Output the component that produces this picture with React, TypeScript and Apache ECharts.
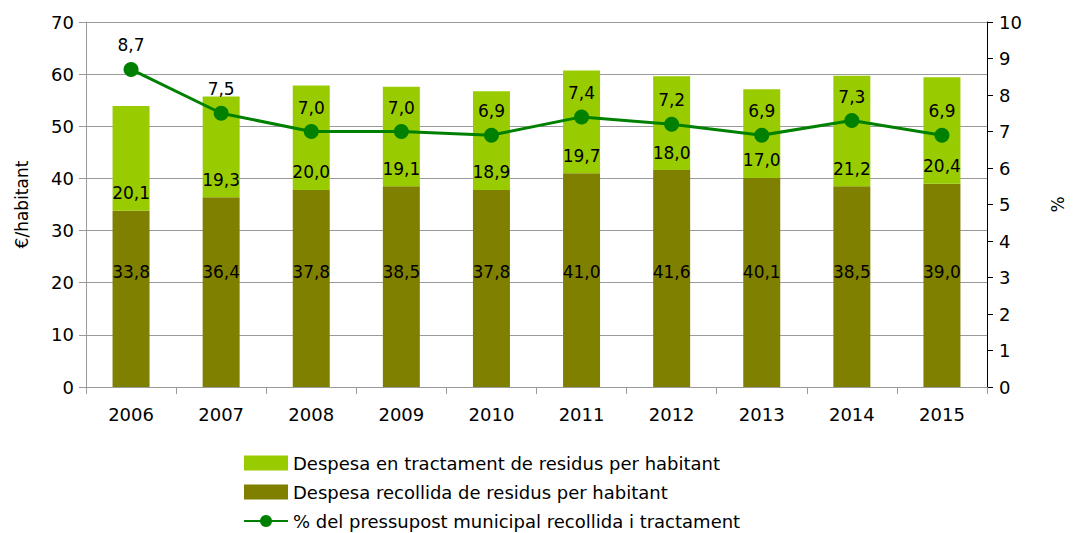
import React, { useEffect, useRef } from "react";
import * as echarts from "echarts";

const years = ["2006", "2007", "2008", "2009", "2010", "2011", "2012", "2013", "2014", "2015"];
const recollida = [33.8, 36.4, 37.8, 38.5, 37.8, 41.0, 41.6, 40.1, 38.5, 39.0];
const tractament = [20.1, 19.3, 20.0, 19.1, 18.9, 19.7, 18.0, 17.0, 21.2, 20.4];
const pressupost = [8.7, 7.5, 7.0, 7.0, 6.9, 7.4, 7.2, 6.9, 7.3, 6.9];

const FONT = "'DejaVu Sans', sans-serif";
const fmt = (v: number) => v.toFixed(1).replace(".", ",");

export default function App() {
  const ref = useRef<HTMLDivElement>(null);
  useEffect(() => {
    if (!ref.current) return;
    const chart = echarts.init(ref.current, null, { renderer: "svg" });
    chart.setOption({
      animation: false,
      textStyle: { fontFamily: FONT },
      grid: { left: 86, right: 80, top: 22, bottom: 146 },
      legend: {
        orient: "vertical",
        left: 238,
        top: 449,
        height: 100,
        itemGap: 11,
        itemWidth: 44,
        itemHeight: 15,
        textStyle: { fontFamily: FONT, fontSize: 18, color: "#000" },
        data: [
          { name: "Despesa en tractament de residus per habitant", icon: "rect" },
          { name: "Despesa recollida de residus per habitant", icon: "rect" },
          { name: "% del pressupost municipal recollida i tractament" },
        ],
      },
      xAxis: {
        type: "category",
        data: years,
        boundaryGap: true,
        axisLine: { lineStyle: { color: "#9a9a9a", width: 1 } },
        axisTick: { show: true, length: 7, alignWithLabel: false, lineStyle: { color: "#9a9a9a" } },
        axisLabel: { fontFamily: FONT, fontSize: 18, color: "#000", margin: 18 },
      },
      yAxis: [
        {
          type: "value",
          min: 0,
          max: 70,
          interval: 10,
          name: "€/habitant",
          nameLocation: "middle",
          nameRotate: 90,
          nameGap: 56,
          nameTextStyle: { fontFamily: FONT, fontSize: 17, color: "#000" },
          axisLine: { show: true, lineStyle: { color: "#9a9a9a" } },
          axisTick: { show: true, length: 7, lineStyle: { color: "#9a9a9a" } },
          axisLabel: { fontFamily: FONT, fontSize: 18, color: "#000", margin: 12 },
          splitLine: { show: true, lineStyle: { color: "#9a9a9a", width: 1 } },
        },
        {
          type: "value",
          min: 0,
          max: 10,
          interval: 1,
          position: "right",
          name: "%",
          nameLocation: "middle",
          nameRotate: 90,
          nameGap: 62,
          nameTextStyle: { fontFamily: FONT, fontSize: 17, color: "#000" },
          axisLine: { show: true, lineStyle: { color: "#000" } },
          axisTick: { show: true, length: 6, lineStyle: { color: "#000" } },
          axisLabel: { fontFamily: FONT, fontSize: 18, color: "#000", margin: 12 },
          splitLine: { show: false },
        },
      ],
      series: [
        {
          name: "Despesa recollida de residus per habitant",
          type: "bar",
          stack: "total",
          data: recollida,
          barWidth: 37,
          itemStyle: { color: "#808000" },
          label: {
            show: true,
            position: "insideBottom",
            distance: 107,
            formatter: (p: any) => fmt(p.value),
            fontFamily: FONT,
            fontSize: 17,
            color: "#000",
          },
        },
        {
          name: "Despesa en tractament de residus per habitant",
          type: "bar",
          stack: "total",
          data: tractament,
          barWidth: 37,
          itemStyle: { color: "#99cc00" },
          label: {
            show: true,
            position: "insideBottom",
            distance: 9,
            formatter: (p: any) => fmt(p.value),
            fontFamily: FONT,
            fontSize: 17,
            color: "#000",
          },
        },
        {
          name: "% del pressupost municipal recollida i tractament",
          type: "line",
          yAxisIndex: 1,
          data: pressupost,
          symbol: "circle",
          symbolSize: 15,
          lineStyle: { color: "#008000", width: 3 },
          itemStyle: { color: "#008000" },
          label: {
            show: true,
            position: "top",
            distance: 8,
            formatter: (p: any) => fmt(p.value),
            fontFamily: FONT,
            fontSize: 17,
            color: "#000",
          },
          z: 5,
        },
      ],
    });
    return () => chart.dispose();
  }, []);
  return (
    <div
      ref={ref}
      style={{ position: "absolute", left: 0, top: 0, width: 1074, height: 533 }}
    />
  );
}
